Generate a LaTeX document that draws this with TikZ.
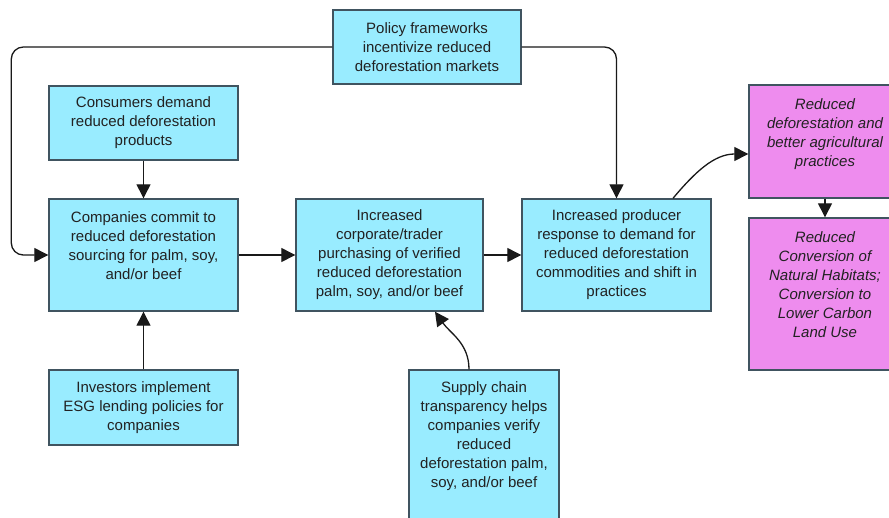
\documentclass[tikz,border=0pt]{standalone}
\usepackage{fontspec}
\setmainfont{Liberation Sans}
\usetikzlibrary{arrows.meta}
\definecolor{boxfill}{RGB}{153,236,255}
\definecolor{outfill}{RGB}{238,140,238}
\definecolor{boxline}{RGB}{64,84,96}
\definecolor{inkcol}{RGB}{34,34,34}
\begin{document}
\begin{tikzpicture}[x=1pt,y=-1pt,
  driver/.style={draw=boxline, line width=1.4pt, fill=boxfill, align=center,
    text=inkcol, inner sep=0pt, font=\fontsize{15}{19}\selectfont},
  outcome/.style={driver, fill=outfill, font=\fontsize{15}{19}\selectfont\itshape},
  link/.style={line width=1.3pt, draw=black!90, -{Triangle[length=14pt,width=14pt]}}]
\clip (0,0) rectangle (889,517);
\fill[white] (0,0) rectangle (889,517);

% drivers
\node[driver, minimum width=188pt, minimum height=74pt] (policy) at (427,47)
  {Policy frameworks\\incentivize reduced\\deforestation markets};
\node[driver, minimum width=189pt, minimum height=74pt] (consumers) at (143.5,123)
  {Consumers demand\\reduced deforestation\\products};
\node[driver, minimum width=189pt, minimum height=112pt, text depth=18pt] (companies) at (143.5,255)
  {Companies commit to\\reduced deforestation\\sourcing for palm, soy,\\and/or beef};
\node[driver, minimum width=187pt, minimum height=112pt] (corporate) at (389.5,255)
  {Increased\\corporate/trader\\purchasing of verified\\reduced deforestation\\palm, soy, and/or beef};
\node[driver, minimum width=189pt, minimum height=112pt] (producer) at (616.5,255)
  {Increased producer\\response to demand for\\reduced deforestation\\commodities and shift in\\practices};
\node[driver, minimum width=189pt, minimum height=75pt] (investors) at (143.5,407.5)
  {Investors implement\\ESG lending policies for\\companies};
\node[driver, minimum width=150pt, minimum height=170pt, text depth=40pt] (supply) at (484,455)
  {Supply chain\\transparency helps\\companies verify\\reduced\\deforestation palm,\\soy, and/or beef};

% outcomes
\node[outcome, minimum width=152pt, minimum height=113pt, text depth=18pt] (better) at (825,141.5)
  {Reduced\\deforestation and\\better agricultural\\practices};
\node[outcome, minimum width=152pt, minimum height=152pt, text depth=18pt] (habitat) at (825,294)
  {Reduced\\Conversion of\\Natural Habitats;\\Conversion to\\Lower Carbon\\Land Use};

% connectors
\draw[link, rounded corners=12pt] (policy.west) -| ([xshift=-37pt]companies.west) -- (companies.west);
\draw[link, rounded corners=12pt] (policy.east) -| (producer.north);
\draw[link] (consumers.south) -- (companies.north);
\draw[link] (investors.north) -- (companies.south);
\draw[link] (companies.east) -- (corporate.west);
\draw[link] (corporate.east) -- (producer.west);
\draw[link] ([xshift=-15pt]supply.north) to[out=90,in=-55] ([xshift=45.5pt]corporate.south);
\draw[link] ([xshift=56.5pt]producer.north) to[out=50,in=180] ([yshift=-12.5pt]better.west);
\draw[link] (better.south) -- (habitat.north);
\end{tikzpicture}
\end{document}
